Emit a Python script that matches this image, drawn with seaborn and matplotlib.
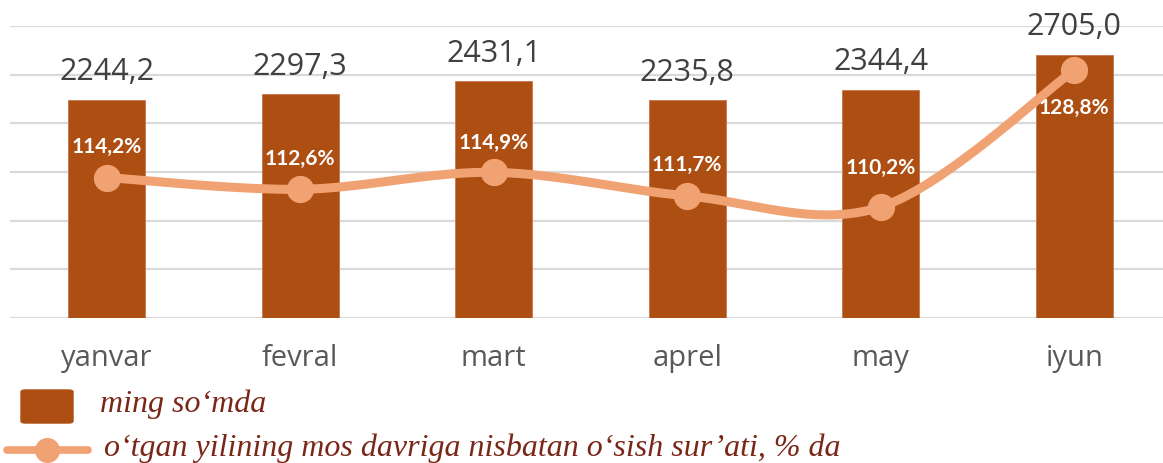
import numpy as np
import pandas as pd
import seaborn as sns
import matplotlib.pyplot as plt
from matplotlib.patches import FancyBboxPatch
from matplotlib.lines import Line2D

months = ['yanvar', 'fevral', 'mart', 'aprel', 'may', 'iyun']
amount = [2244.2, 2297.3, 2431.1, 2235.8, 2344.4, 2705.0]
growth = [114.2, 112.6, 114.9, 111.7, 110.2, 128.8]
amount_labels = ['2244,2', '2297,3', '2431,1', '2235,8', '2344,4', '2705,0']
growth_labels = ['114,2%', '112,6%', '114,9%', '111,7%', '110,2%', '128,8%']

bar_col = '#AD4E12'
line_col = '#F1A273'
legend_col = '#7A2618'

sns.set_style('white')
plt.rcParams['font.family'] = ['Open Sans', 'DejaVu Sans']

W, H = 1163, 463
fig = plt.figure(figsize=(W / 100, H / 100), dpi=100)
ax = fig.add_axes([10 / W, (H - 318) / H, 1161 / W, 292 / H])

df = pd.DataFrame({'month': months, 'amount': amount, 'growth': growth})
sns.barplot(data=df, x='month', y='amount', color=bar_col, saturation=1,
            width=0.4, ax=ax, edgecolor='#C8764A', linewidth=0.6)
ax.set_ylim(0, 3000)
ax.set_xlim(-0.5, 5.5)
ax.set_yticks(np.arange(0, 3001, 500))
ax.yaxis.grid(True, color='#D9D9D9', lw=1.6)
ax.set_axisbelow(True)
for s in ax.spines.values():
    s.set_visible(False)
ax.tick_params(axis='y', which='both', length=0, left=False, right=False, labelleft=False)
ax.tick_params(axis='x', length=0, pad=19, labelsize=21, labelcolor='#595959')
ax.set_xlabel('')
ax.set_ylabel('')

for i, (v, t) in enumerate(zip(amount, amount_labels)):
    ax.annotate(t, (i, v), xytext=(0, 20), textcoords='offset points',
                ha='center', va='center', fontsize=22, color='#404040',
                annotation_clip=False)

# smoothed growth line on a secondary axis
ax2 = ax.twinx()
ax2.set_ylim(95.1, 134.8)
ax2.axis('off')

def catmull_rom(xs, ys, n=40):
    px = np.r_[xs[0], xs, xs[-1]]
    py = np.r_[ys[0], ys, ys[-1]]
    out_x, out_y = [], []
    for k in range(1, len(px) - 2):
        t = np.linspace(0, 1, n)
        for p, out in ((px, out_x), (py, out_y)):
            p0, p1, p2, p3 = p[k - 1], p[k], p[k + 1], p[k + 2]
            out.extend(0.5 * (2 * p1 + (-p0 + p2) * t
                              + (2 * p0 - 5 * p1 + 4 * p2 - p3) * t ** 2
                              + (-p0 + 3 * p1 - 3 * p2 + p3) * t ** 3))
    return np.array(out_x), np.array(out_y)

xs = np.arange(len(growth), dtype=float)
sx, sy = catmull_rom(xs, np.array(growth))
ax2.plot(sx, sy, color=line_col, lw=6.5, solid_capstyle='round')
sns.scatterplot(x=xs, y=growth, ax=ax2, s=330, color=line_col, edgecolor=line_col, zorder=3)

offsets = [22, 22, 21, 22, 28, -27]
for i, (v, t) in enumerate(zip(growth, growth_labels)):
    ax2.annotate(t, (i, v), xytext=(0, offsets[i]), textcoords='offset points',
                 ha='center', va='center', fontsize=15, fontweight='bold',
                 color='white', family=['Lato', 'DejaVu Sans'])

# legend drawn by hand
fig.add_artist(FancyBboxPatch((21 / W, (H - 423) / H), 52 / W, 33 / H,
                              boxstyle='round,pad=0,rounding_size=0.004',
                              transform=fig.transFigure, color=bar_col))
fig.add_artist(Line2D([7 / W, 88 / W], [(H - 450) / H] * 2, transform=fig.transFigure,
                      color=line_col, lw=5.5, solid_capstyle='round'))
fig.add_artist(Line2D([47 / W], [(H - 450) / H], transform=fig.transFigure,
                      color=line_col, marker='o', ms=17))
leg_font = dict(fontsize=23, style='italic', color=legend_col,
                family=['Liberation Serif', 'DejaVu Serif'], va='center')
fig.text(100 / W, (H - 404) / H, 'ming so‘mda', **leg_font)
fig.text(104 / W, (H - 448) / H, 'o‘tgan yilining mos davriga nisbatan o‘sish sur’ati, % da', **leg_font)

fig.savefig('out.png', dpi=100)
